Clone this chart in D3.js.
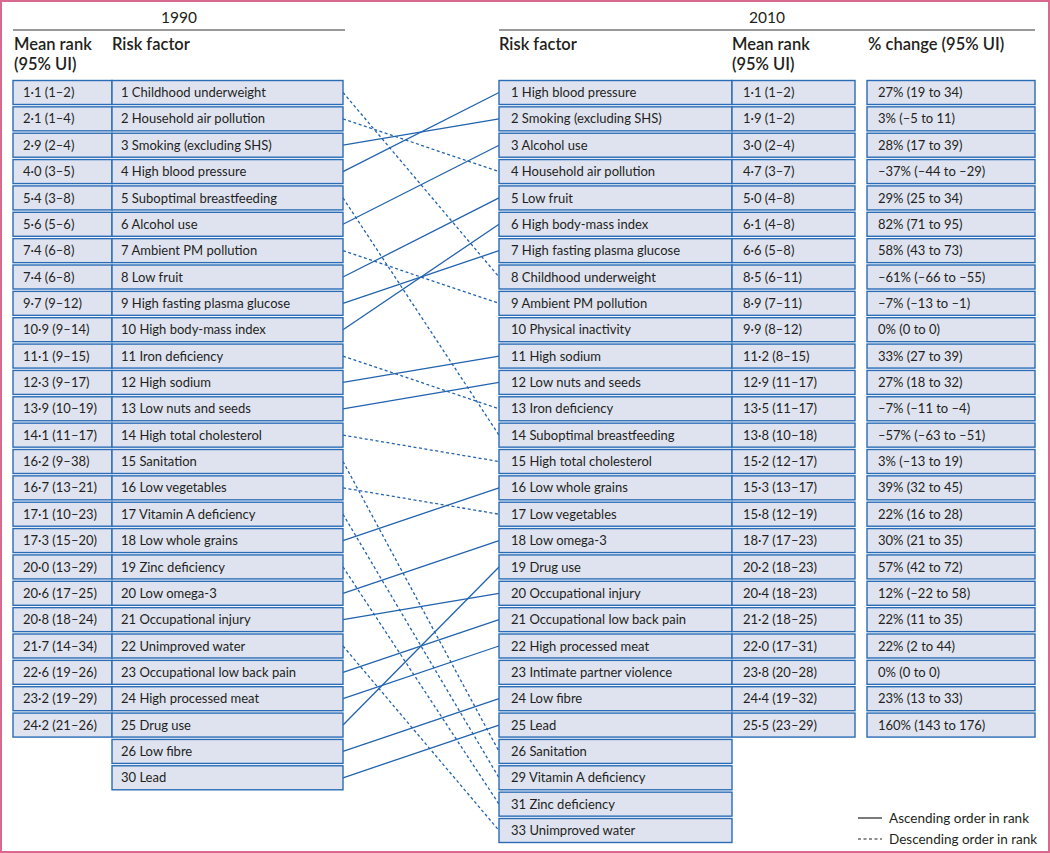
<!DOCTYPE html>
<html><head><meta charset="utf-8">
<script src="https://cdn.jsdelivr.net/npm/d3@7"></script>
<style>
html,body{margin:0;padding:0;background:#fff;}
svg text{font-family:Lato,"Noto Sans",sans-serif;fill:#231f20;}
</style></head>
<body><svg id="c" width="1050" height="853"></svg>
<script>
const rank1990 = ["1·1 (1–2)","2·1 (1–4)","2·9 (2–4)","4·0 (3–5)","5·4 (3–8)","5·6 (5–6)","7·4 (6–8)","7·4 (6–8)","9·7 (9–12)","10·9 (9–14)","11·1 (9–15)","12·3 (9–17)","13·9 (10–19)","14·1 (11–17)","16·2 (9–38)","16·7 (13–21)","17·1 (10–23)","17·3 (15–20)","20·0 (13–29)","20·6 (17–25)","20·8 (18–24)","21·7 (14–34)","22·6 (19–26)","23·2 (19–29)","24·2 (21–26)"];
const factors1990 = ["1 Childhood underweight","2 Household air pollution","3 Smoking (excluding SHS)","4 High blood pressure","5 Suboptimal breastfeeding","6 Alcohol use","7 Ambient PM pollution","8 Low fruit","9 High fasting plasma glucose","10 High body-mass index","11 Iron deficiency","12 High sodium","13 Low nuts and seeds","14 High total cholesterol","15 Sanitation","16 Low vegetables","17 Vitamin A deficiency","18 Low whole grains","19 Zinc deficiency","20 Low omega-3","21 Occupational injury","22 Unimproved water","23 Occupational low back pain","24 High processed meat","25 Drug use","26 Low fibre","30 Lead"];
const factors2010 = ["1 High blood pressure","2 Smoking (excluding SHS)","3 Alcohol use","4 Household air pollution","5 Low fruit","6 High body-mass index","7 High fasting plasma glucose","8 Childhood underweight","9 Ambient PM pollution","10 Physical inactivity","11 High sodium","12 Low nuts and seeds","13 Iron deficiency","14 Suboptimal breastfeeding","15 High total cholesterol","16 Low whole grains","17 Low vegetables","18 Low omega-3","19 Drug use","20 Occupational injury","21 Occupational low back pain","22 High processed meat","23 Intimate partner violence","24 Low fibre","25 Lead","26 Sanitation","29 Vitamin A deficiency","31 Zinc deficiency","33 Unimproved water"];
const rank2010 = ["1·1 (1–2)","1·9 (1–2)","3·0 (2–4)","4·7 (3–7)","5·0 (4–8)","6·1 (4–8)","6·6 (5–8)","8·5 (6–11)","8·9 (7–11)","9·9 (8–12)","11·2 (8–15)","12·9 (11–17)","13·5 (11–17)","13·8 (10–18)","15·2 (12–17)","15·3 (13–17)","15·8 (12–19)","18·7 (17–23)","20·2 (18–23)","20·4 (18–23)","21·2 (18–25)","22·0 (17–31)","23·8 (20–28)","24·4 (19–32)","25·5 (23–29)"];
const change2010 = ["27% (19 to 34)","3% (–5 to 11)","28% (17 to 39)","–37% (–44 to –29)","29% (25 to 34)","82% (71 to 95)","58% (43 to 73)","–61% (–66 to –55)","–7% (–13 to –1)","0% (0 to 0)","33% (27 to 39)","27% (18 to 32)","–7% (–11 to –4)","–57% (–63 to –51)","3% (–13 to 19)","39% (32 to 45)","22% (16 to 28)","30% (21 to 35)","57% (42 to 72)","12% (–22 to 58)","22% (11 to 35)","22% (2 to 44)","0% (0 to 0)","23% (13 to 33)","160% (143 to 176)"];
// row in the 2010 table reached by each 1990 row
const target2010Row = [7,3,1,0,13,2,8,4,6,5,12,10,11,14,25,16,26,15,27,17,19,28,20,21,18,23,24];
const legendLabels = ["Ascending order in rank","Descending order in rank"];

const svg = d3.select("#c");
const W = 1050, H = 853;
const blue = "#2a6cb5", fill = "#dfe3f0", lineBlue = "#2263ae";
const y = d3.scaleLinear().domain([0, 28]).range([92.5, 830.5]);
const boxH = 24;
const L = {a:13, b:112, c:343};
const R = {a:499, b:732, c:855, d:867, e:1035};

// frame
svg.append("rect").attr("x",1).attr("y",1).attr("width",W-2).attr("height",H-2)
  .attr("fill","none").attr("stroke","#d9698f").attr("stroke-width",2);

// headers
const hdr = svg.append("g");
hdr.append("text").attr("x",(L.a+L.c+2)/2).attr("y",23).attr("text-anchor","middle").style("font-size","15.5px").text("1990");
hdr.append("line").attr("x1",L.a).attr("x2",L.c+2).attr("y1",30).attr("y2",30).attr("stroke","#333").attr("stroke-width",1);
hdr.append("text").attr("x",(R.a+R.e)/2).attr("y",23).attr("text-anchor","middle").style("font-size","15.5px").text("2010");
hdr.append("line").attr("x1",R.a).attr("x2",R.e).attr("y1",30).attr("y2",30).attr("stroke","#333").attr("stroke-width",1);
function head(x, lines){
  lines.forEach((t,i)=>hdr.append("text").attr("x",x).attr("y",50+i*20).style("font-size","16.5px").style("font-weight","600").text(t));
}
head(14,["Mean rank","(95% UI)"]);
head(112,["Risk factor"]);
head(499,["Risk factor"]);
head(732,["Mean rank","(95% UI)"]);
head(868,["% change (95% UI)"]);

// links
const links = svg.append("g");
target2010Row.forEach((t,i)=>{
  links.append("line").attr("x1",L.c).attr("y1",y(i)).attr("x2",R.a).attr("y2",y(t))
    .attr("stroke",lineBlue).attr("stroke-width",1.3)
    .attr("stroke-dasharray", t > i ? "3,2.5" : null);
});

function boxes(data, x0, x1, pad){
  const g = svg.append("g");
  data.forEach((d,i)=>{
    g.append("rect").attr("x",x0).attr("y",y(i)-boxH/2).attr("width",x1-x0).attr("height",boxH)
      .attr("fill",fill).attr("stroke",blue).attr("stroke-width",1.4);
    g.append("text").attr("x",x0+pad).attr("y",y(i)+4.6).style("font-size","13px").text(d);
  });
}
boxes(rank1990, L.a, L.b, 10);
boxes(factors1990, L.b, L.c, 9);
boxes(factors2010, R.a, R.b, 12);
boxes(rank2010, R.b, R.c, 11);
boxes(change2010, R.d, R.e, 11);

// legend
const lg = svg.append("g");
legendLabels.forEach((t,i)=>{
  const yy = 818 + i*21;
  lg.append("line").attr("x1",858).attr("x2",882).attr("y1",yy).attr("y2",yy).attr("stroke","#231f20").attr("stroke-width",1.2).attr("stroke-dasharray",i ? "3,2.5" : null);
  lg.append("text").attr("x",889).attr("y",yy+4.5).style("font-size","13.5px").text(t);
});
</script></body></html>
